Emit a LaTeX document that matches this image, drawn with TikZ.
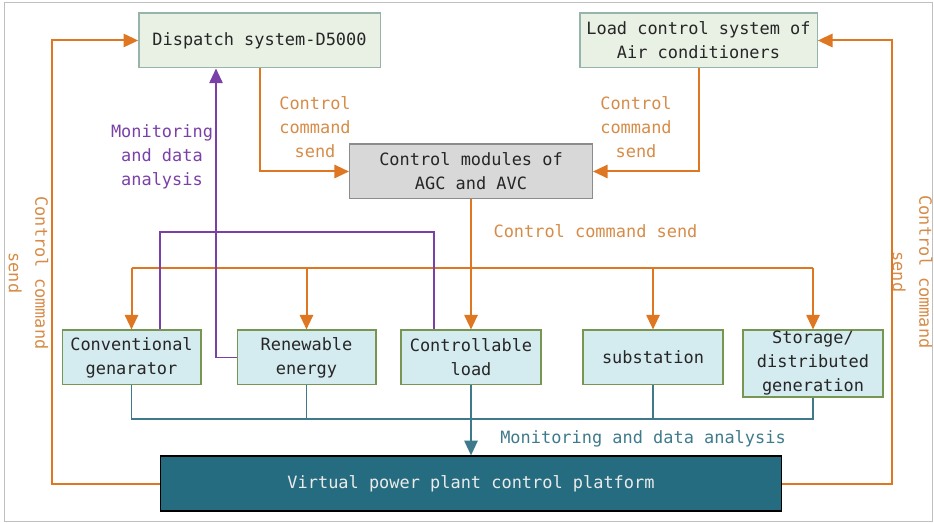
\documentclass[tikz,border=0pt]{standalone}
\usepackage{fontspec}
\setmonofont{DejaVu Sans Mono}
\usetikzlibrary{arrows.meta}

\definecolor{ctrlorange}{RGB}{222,118,34}
\definecolor{lblorange}{RGB}{214,140,72}
\definecolor{monpurple}{RGB}{122,64,168}
\definecolor{datateal}{RGB}{62,122,140}
\definecolor{greenfill}{RGB}{232,241,228}
\definecolor{greenline}{RGB}{150,180,170}
\definecolor{bluefill}{RGB}{212,235,240}
\definecolor{blueline}{RGB}{118,150,82}
\definecolor{grayfill}{RGB}{216,216,216}
\definecolor{platfill}{RGB}{38,108,128}

\tikzset{every picture/.style={line width=0.75pt}}
\tikzset{
  box/.style={draw, line width=1pt, align=center, inner sep=0.75pt,
    font=\ttfamily\fontsize{12.7}{18}\selectfont, text=black!85},
  greenbox/.style={box, fill=greenfill, draw=greenline},
  bluebox/.style={box, fill=bluefill, draw=blueline},
  graybox/.style={box, fill=grayfill, draw=black!45},
  platbox/.style={box, fill=platfill, draw=black, line width=1.2pt, text=black!8},
  ctrl/.style={draw=ctrlorange, line width=1.5pt},
  mon/.style={draw=monpurple, line width=1.3pt},
  data/.style={draw=datateal, line width=1.2pt},
  tip/.style={-{Triangle[length=11pt,width=10pt]}},
  lbl/.style={align=center, inner sep=0.75pt, font=\ttfamily\fontsize{12.7}{18}\selectfont}
}

\begin{document}
\begin{tikzpicture}[x=0.75pt,y=0.75pt,yscale=-1,xscale=1]
\useasboundingbox (0,0) rectangle (934,523);
\draw [black!25] (4,3) rectangle (932,521);

% Top systems
\node [greenbox, minimum width=181pt, minimum height=41pt] (dispatch) at (259.5,40.5) {Dispatch system-D5000};
\node [greenbox, minimum width=178pt, minimum height=41pt] (aircon) at (698.5,40.5) {Load control system of\\Air conditioners};
% Control modules
\node [graybox, minimum width=182pt, minimum height=41pt] (agc) at (471,171.5) {Control modules of\\AGC and AVC};

% Resource row
\node [bluebox, minimum width=104pt, minimum height=41pt] (conv) at (131.5,357.5) {Conventional\\genarator};
\node [bluebox, minimum width=104pt, minimum height=41pt] (renew) at (306.5,357.5) {Renewable\\energy};
\node [bluebox, minimum width=105pt, minimum height=41pt] (cload) at (471,357.5) {Controllable\\load};
\node [bluebox, minimum width=105pt, minimum height=41pt] (subst) at (653,357.5) {substation};
\node [bluebox, minimum width=105pt, minimum height=50pt] (storage) at (813,363.5) {Storage/\\distributed\\generation};

% Platform
\node [platbox, minimum width=466pt, minimum height=41pt] (vpp) at (471,483.5) {Virtual power plant control platform};

% Helper coordinates
\coordinate (bus) at (0,268);
\coordinate (dbus) at (0,419);
\coordinate (mx) at (216,0);
\coordinate (ml) at (160,232);
\coordinate (mr) at (434,232);

% Outer control loops
\draw [ctrl, tip] (vpp.west) -- ++(-108,0) |- (dispatch.west);
\draw [ctrl, tip] (vpp.east) -- ++(110,0) |- (aircon.east);
% Commands into AGC/AVC
\draw [ctrl, tip] (dispatch.south) |- (agc.west);
\draw [ctrl, tip] (aircon.south) |- (agc.east);
% Command distribution
\draw [ctrl, tip] (agc.south) -- (cload.north);
\draw [ctrl] (conv.north |- bus) -- (storage.north |- bus);
\foreach \n in {conv,renew,subst,storage}
  \draw [ctrl, tip] (\n.north |- bus) -- (\n.north);

% Monitoring to dispatch
\draw [mon] (ml |- conv.north) -- (ml) -- (mr) -- (mr |- cload.north);
\draw [mon, tip] (renew.west) -| (mx |- dispatch.south);

% Data collection to platform
\draw [data] (conv.south) -- (conv.south |- dbus) -- (storage.south |- dbus) -- (storage.south);
\foreach \n in {renew,subst}
  \draw [data] (\n.south) -- (\n.south |- dbus);
\draw [data, tip] (cload.south) -- (vpp.north);

% Labels
\node [lbl, text=lblorange] (lcmd1) at (315,127) {Control\\command\\send};
\node [lbl, text=lblorange] (lcmd2) at (636,127) {Control\\command\\send};
\node [lbl, text=monpurple] (lmon1) at (162,157) {Monitoring\\and data\\analysis};
\node [lbl, text=lblorange] (lcmd3) at (595.5,231) {Control command send};
\node [lbl, text=datateal] (lmon2) at (643,439) {Monitoring and data analysis};
\node [lbl, text=lblorange, rotate=-90, font=\ttfamily\fontsize{12.7}{20}\selectfont] (lcmd4) at (28.5,273) {Control command\\send};
\node [lbl, text=lblorange, rotate=-90, font=\ttfamily\fontsize{12.7}{20}\selectfont] (lcmd5) at (912.5,272) {Control command\\send};

\end{tikzpicture}
\end{document}
